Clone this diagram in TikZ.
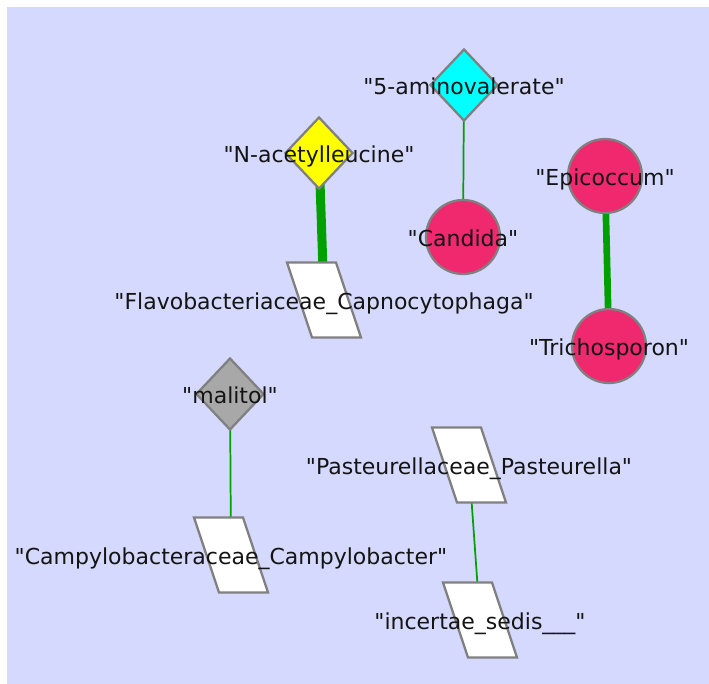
\documentclass[tikz,border=0pt]{standalone}
\usepackage{fontspec}
\setmainfont{DejaVu Sans}[Ligatures=TeXOff]
\usetikzlibrary{shapes.geometric}
\definecolor{canvas}{RGB}{213,217,254}
\definecolor{outline}{RGB}{128,128,128}
\definecolor{fungus}{RGB}{240,40,110}
\definecolor{linkgreen}{RGB}{0,160,0}
\definecolor{metcyan}{RGB}{0,255,255}
\definecolor{metyellow}{RGB}{255,255,0}
\definecolor{metgray}{RGB}{168,168,168}
\definecolor{ink}{RGB}{20,20,20}
\begin{document}
\begin{tikzpicture}[x=0.75pt,y=-0.75pt,
  shapeline/.style={draw=outline, line width=1.7pt, line join=miter},
  metab/.style={shapeline, diamond, inner sep=0pt, minimum width=51pt, minimum height=54pt},
  fungnode/.style={shapeline, circle, fill=fungus, inner sep=0pt, minimum size=55.5pt},
  link/.style={draw=linkgreen},
  thinlink/.style={link, line width=1.3pt},
  lbl/.style={text=ink, font=\fontsize{16.5pt}{18pt}\selectfont, anchor=base, inner sep=0pt, yshift=-6.75pt},
  bacterium/.pic={\draw[shapeline, fill=white] (-37,-37.5) -- (12,-37.5) -- (37,37.5) -- (-12,37.5) -- cycle;}
]
% canvas
\useasboundingbox (0,0) rectangle (709,683);
\fill[white] (0,0) rectangle (709,683);
\fill[canvas] (7,7) rectangle (715,690);

% node centres
\coordinate (nacetyl) at (319,153);
\coordinate (amino)   at (464,85);
\coordinate (malitol) at (230,394);
\coordinate (candida) at (463,237);
\coordinate (epicoc)  at (605,176);
\coordinate (tricho)  at (609,346);
\coordinate (flavo)   at (324,300);
\coordinate (campylo) at (231,555);
\coordinate (pasteur) at (469,465);
\coordinate (incert)  at (480,620);

% edges
\draw[link, line width=6.75pt] (nacetyl) -- (flavo);
\draw[link, line width=5pt] (epicoc) -- (tricho);
\draw[thinlink] (amino) -- (candida);
\draw[thinlink] (malitol) -- (campylo);
\draw[thinlink] (pasteur) -- (incert);

% metabolites
\node[metab, fill=metyellow] (nacetylshape) at (nacetyl) {};
\node[metab, fill=metcyan] (aminoshape) at (amino) {};
\node[metab, fill=metgray] (malitolshape) at (malitol) {};

% fungi
\node[fungnode] (candidashape) at (candida) {};
\node[fungnode] (epicocshape) at (epicoc) {};
\node[fungnode] (trichoshape) at (tricho) {};

% bacteria
\pic at (flavo) {bacterium};
\pic at (campylo) {bacterium};
\pic at (pasteur) {bacterium};
\pic at (incert) {bacterium};

% labels
\node[lbl] (l1) at (nacetyl) {"N-acetylleucine"};
\node[lbl] (l2) at (amino) {"5-aminovalerate"};
\node[lbl] (l3) at (malitol) {"malitol"};
\node[lbl] (l4) at (candida) {"Candida"};
\node[lbl] (l5) at (epicoc) {"Epicoccum"};
\node[lbl] (l6) at (tricho) {"Trichosporon"};
\node[lbl] (l7) at (flavo) {"Flavobacteriaceae\_Capnocytophaga"};
\node[lbl] (l8) at (campylo) {"Campylobacteraceae\_Campylobacter"};
\node[lbl] (l9) at (pasteur) {"Pasteurellaceae\_Pasteurella"};
\node[lbl] (l10) at (incert) {"incertae\_sedis\_\_\_"};
\end{tikzpicture}
\end{document}
